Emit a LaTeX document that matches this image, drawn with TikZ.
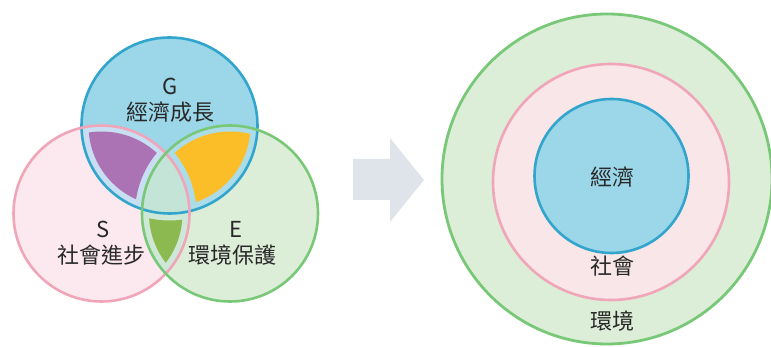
\documentclass[tikz,border=0pt]{standalone}
\usepackage{fontspec}
\setmainfont{Noto Sans CJK TC}
\usepackage{tikz}
\usetikzlibrary{positioning}
\definecolor{gfill}{RGB}{155, 215, 232}
\definecolor{gline}{RGB}{50, 165, 205}
\definecolor{sfill}{RGB}{252, 233, 240}
\definecolor{sline}{RGB}{240, 165, 185}
\definecolor{efill}{RGB}{221, 238, 216}
\definecolor{eline}{RGB}{120, 200, 120}
\definecolor{gsband}{RGB}{200, 222, 242}
\definecolor{geband}{RGB}{172, 220, 232}
\definecolor{seband}{RGB}{205, 232, 215}
\definecolor{midcol}{RGB}{195, 228, 215}
\definecolor{purpura}{RGB}{172, 115, 180}
\definecolor{naranja}{RGB}{252, 190, 40}
\definecolor{oliva}{RGB}{140, 185, 80}
\definecolor{flecha}{RGB}{222, 228, 234}
\definecolor{ringfill}{RGB}{248, 230, 232}
\definecolor{texto}{RGB}{40, 40, 40}
\tikzset{
    lbl/.style={text=texto, inner sep=0pt, font=\fontsize{22}{26}\selectfont},
    gring/.style={fill=gfill, draw=gline, line width=2.6pt},
    sring/.style={fill=ringfill, draw=sline, line width=2.6pt},
    ering/.style={fill=efill, draw=eline, line width=2.8pt},
}

\begin{document}
\begin{tikzpicture}[x=1pt, y=-1pt]
            \useasboundingbox (0,0) rectangle (771,347);

            \coordinate (g) at (169.5,125.5);
            \coordinate (s) at (101.5,213.5);
            \coordinate (e) at (230,213.5);

            % circle fills
            \fill[sfill] (s) circle (88pt);
            \fill[efill] (e) circle (88pt);
            \fill[gfill] (g) circle (88pt);
            \begin{scope}
                \clip (g) circle (88pt);
                \fill[gsband] (s) circle (88pt);
                \fill[geband] (e) circle (88pt);
            \end{scope}
            \begin{scope}
                \clip (s) circle (88pt);
                \fill[seband] (e) circle (88pt);
                \clip (g) circle (88pt);
                \fill[midcol] (e) circle (88pt);
            \end{scope}

            % inner lenses
            \begin{scope}
                \clip (g) circle (81pt);
                \clip (s) circle (82pt);
                \fill[purpura, even odd rule] (0,0) rectangle (771,347) (e) circle (95pt);
            \end{scope}
            \begin{scope}
                \clip (g) circle (81pt);
                \clip (e) circle (82pt);
                \fill[naranja, even odd rule] (0,0) rectangle (771,347) (s) circle (95pt);
            \end{scope}
            \begin{scope}
                \clip (s) circle (81pt);
                \clip (e) circle (81pt);
                \fill[oliva, even odd rule] (0,0) rectangle (771,347) (g) circle (95pt);
            \end{scope}

            \draw[gline, line width=2.6pt] (g) circle (88pt);
            \draw[sline, line width=2.6pt] (s) circle (88pt);
            \draw[eline, line width=2.6pt] (e) circle (88pt);

            \node[lbl] (gl) at (170, 86) {G};
            \node[lbl] (gt) at (170, 112) {經濟成長};
            \node[lbl] (sl) at (103, 229) {S};
            \node[lbl] (st) at (101, 255) {社會進步};
            \node[lbl] (el) at (236, 229) {E};
            \node[lbl] (et) at (232, 255) {環境保護};

            % arrow
            \fill[flecha] (353,159) -- (390,159) -- (390,138) -- (424,180)
                -- (390,222) -- (390,200) -- (353,200) -- cycle;

            % rings
            \draw[ering] (607,179) circle (165pt);
            \draw[sring] (611,182) circle (118pt);
            \draw[gring] (611.5,176) circle (77pt);

            \node[lbl] (ec) at (612, 177) {經濟};
            \node[lbl] (so) at (612, 266) {社會};
            \node[lbl] (en) at (612, 321) {環境};
        \end{tikzpicture}
\end{document}
